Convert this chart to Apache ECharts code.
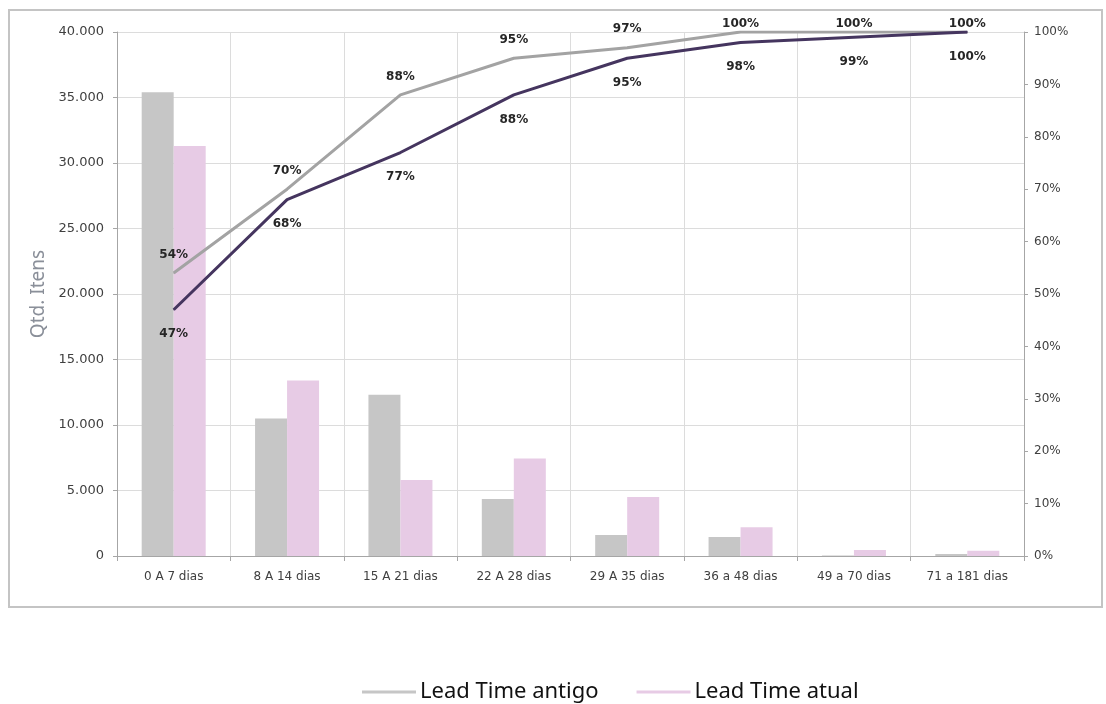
<!DOCTYPE html>
<html>
<head>
<meta charset="utf-8">
<script src="https://cdn.jsdelivr.net/npm/echarts@6/dist/echarts.min.js"></script>
<style>
html,body{margin:0;padding:0;background:#fff;}
#chart{width:1106px;height:704px;}
</style>
</head>
<body>
<div id="chart"></div>
<script>
const categories = ['0 A 7 dias','8 A 14 dias','15 A 21 dias','22 A 28 dias','29 A 35 dias','36 a 48 dias','49 a 70 dias','71 a 181 dias'];
const qtdAntigo = [35400, 10500, 12300, 4350, 1600, 1450, 30, 150];
const qtdAtual = [31300, 13400, 5800, 7450, 4500, 2200, 460, 400];
const acumAntigo = [54, 70, 88, 95, 97, 100, 100, 100];
const acumAtual = [47, 68, 77, 88, 95, 98, 99, 100];
const leftTicks = {min: 0, max: 40000, interval: 5000};
const rightTicks = {min: 0, max: 100, interval: 10};

const AXFONT = '"DejaVu Sans", sans-serif';
const FONT = '"Noto Sans", "Open Sans", sans-serif';
function fmtThousands(v){
  return String(v).replace(/\B(?=(\d{3})+(?!\d))/g, '.');
}
const chart = echarts.init(document.getElementById('chart'));
const lblStyle = {show: true, formatter: p => p.value + '%', fontFamily: AXFONT, fontSize: 12, fontWeight: 'bold', color: '#262626'};
// labels at the very top are pushed back inside the chart area (as in the source)
const antigoData = acumAntigo.map(v => v >= 100 ? {value: v, label: {distance: 2}} : v);
chart.setOption({
  backgroundColor: '#fff',
  animation: false,
  graphic: [{
    type: 'rect', shape: {x: 9, y: 10, width: 1093, height: 597},
    style: {fill: 'none', stroke: '#c4c4c4', lineWidth: 2}, silent: true, z: -10
  }],
  grid: {left: 117, right: 82, top: 32, bottom: 148},
  legend: {
    data: ['Lead Time antigo', 'Lead Time atual'],
    left: 357, top: 676,
    icon: 'rect', itemWidth: 54, itemHeight: 3, itemGap: 38,
    textStyle: {fontFamily: FONT, fontSize: 22, color: '#111', padding: [0,0,0,-1]}
  },
  xAxis: {
    type: 'category', data: categories, boundaryGap: true,
    axisLine: {lineStyle: {color: '#a6a6a6'}},
    axisTick: {show: true, length: 5, lineStyle: {color: '#a6a6a6'}},
    splitLine: {show: true, lineStyle: {color: '#dcdcdc'}},
    axisLabel: {fontFamily: AXFONT, fontSize: 12, color: '#404040', margin: 15, interval: 0}
  },
  yAxis: [{
    type: 'value', min: leftTicks.min, max: leftTicks.max, interval: leftTicks.interval,
    name: 'Qtd. Itens', nameLocation: 'middle', nameGap: 67, nameRotate: 90,
    nameTextStyle: {fontFamily: FONT, fontSize: 19, color: '#8a8f99'},
    axisLine: {show: true, lineStyle: {color: '#a6a6a6'}},
    axisTick: {show: true, length: 4, lineStyle: {color: '#a6a6a6'}},
    splitLine: {show: true, lineStyle: {color: '#dcdcdc'}},
    axisLabel: {fontFamily: AXFONT, fontSize: 13, color: '#404040', margin: 13, formatter: fmtThousands}
  }, {
    type: 'value', min: rightTicks.min, max: rightTicks.max, interval: rightTicks.interval,
    position: 'right',
    axisLine: {show: true, lineStyle: {color: '#a6a6a6'}},
    axisTick: {show: true, length: 4, lineStyle: {color: '#a6a6a6'}},
    splitLine: {show: false},
    axisLabel: {fontFamily: AXFONT, fontSize: 12, color: '#404040', margin: 10, formatter: '{value}%'}
  }],
  series: [{
    name: 'Lead Time antigo', type: 'bar', data: qtdAntigo, barWidth: 32, barGap: '0%',
    itemStyle: {color: '#c6c6c6'}
  }, {
    name: 'Lead Time atual', type: 'bar', data: qtdAtual, barWidth: 32,
    itemStyle: {color: '#e7cbe5'}
  }, {
    name: 'Acumulado antigo', type: 'line', yAxisIndex: 1, data: antigoData,
    symbol: 'circle', symbolSize: 1, showSymbol: true, itemStyle: {color: '#a3a3a3'},
    lineStyle: {color: '#a3a3a3', width: 3},
    label: Object.assign({}, lblStyle, {position: 'top', distance: 12}), z: 5
  }, {
    name: 'Acumulado atual', type: 'line', yAxisIndex: 1, data: acumAtual,
    symbol: 'circle', symbolSize: 1, showSymbol: true, itemStyle: {color: '#45355f'},
    lineStyle: {color: '#45355f', width: 3},
    label: Object.assign({}, lblStyle, {position: 'bottom', distance: 18}), z: 6
  }]
});
</script>
</body>
</html>
